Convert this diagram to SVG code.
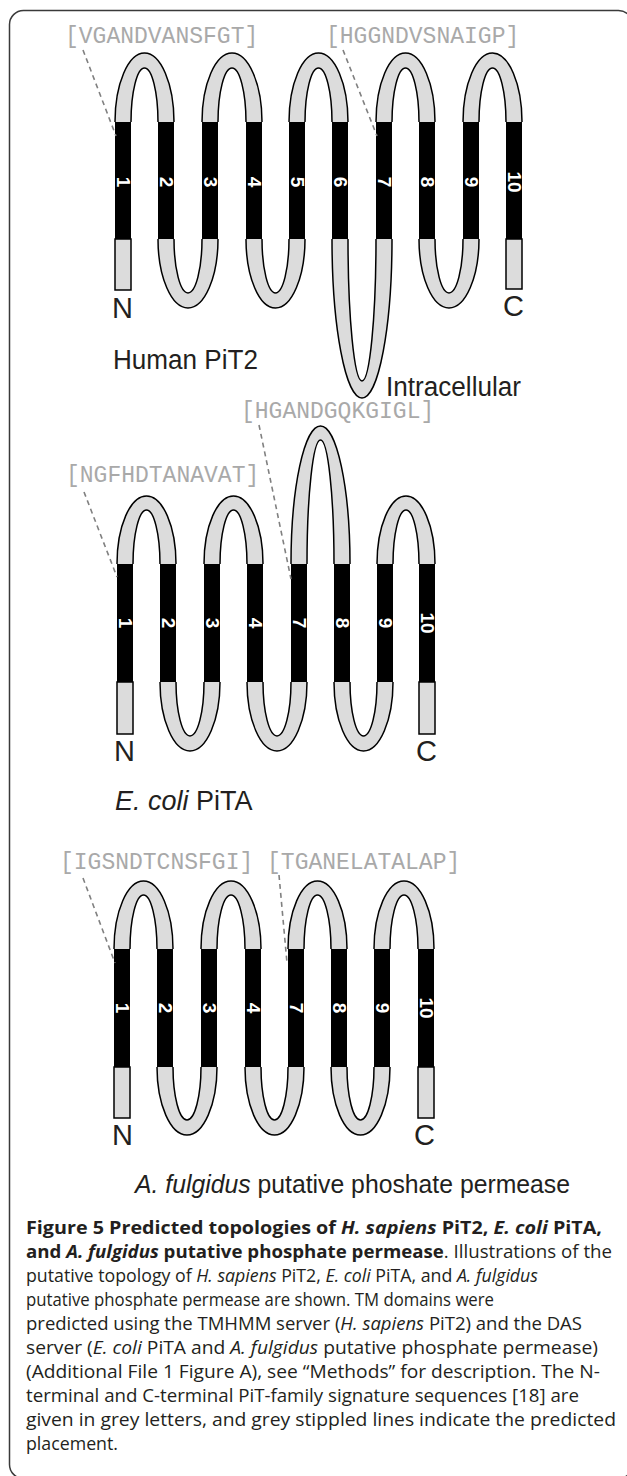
<svg xmlns="http://www.w3.org/2000/svg" width="627" height="1476" viewBox="0 0 627 1476">
<style>
.tube{fill:#dcdcdc;stroke:#000;stroke-width:1.5}
.tail{fill:#dcdcdc;stroke:#000;stroke-width:1.5}
.tm{fill:#000}
.num{fill:#fff;font-family:"Liberation Sans",Arial,sans-serif;font-weight:bold;font-size:19px;text-anchor:middle;dominant-baseline:central}
.seq{fill:#a9a9a9;font-family:"Liberation Mono","Courier New",monospace;font-size:23px}
.lab{fill:#231f20;font-family:"Liberation Sans",Arial,sans-serif;font-size:27px}
.nc{fill:#231f20;font-family:"Liberation Sans",Arial,sans-serif;font-size:29px}
.dash{stroke:#808080;stroke-width:1.6;stroke-dasharray:5 4;fill:none}
.cap{fill:#231f20;font-family:"Open Sans","Noto Sans",sans-serif;font-size:18.5px}
.b{font-weight:bold}
.i{font-style:italic}
</style>
<rect id="frame" x="9.5" y="10.5" width="623" height="1468" rx="14" fill="none" stroke="#3a3a3a" stroke-width="1.5"/>

<!-- ===== Human PiT2 ===== -->
<g id="pit2">
<g id="pit2-loops">
<path class="tube" d="M115,122 A29.5,69 0 0 1 174,122 M158,122 A13.5,54 0 0 0 131,122"/>
<path class="tube" d="M202,122 A30,69 0 0 1 262,122 M246,122 A14,54 0 0 0 218,122"/>
<path class="tube" d="M289,122 A29.5,69 0 0 1 348,122 M332,122 A13.5,54 0 0 0 305,122"/>
<path class="tube" d="M376,122 A29.5,69 0 0 1 435,122 M419,122 A13.5,54 0 0 0 392,122"/>
<path class="tube" d="M463,122 A29.5,69 0 0 1 522,122 M506,122 A13.5,54 0 0 0 479,122"/>
<path class="tube" d="M158,239 A30,69 0 0 0 218,239 M202,239 A14,54 0 0 1 174,239"/>
<path class="tube" d="M246,239 A29.5,69 0 0 0 305,239 M289,239 A13.5,54 0 0 1 262,239"/>
<path class="tube" d="M332,239 A30,159 0 0 0 392,239 M376,239 A14,142 0 0 1 348,239"/>
<path class="tube" d="M419,239 A30,69 0 0 0 479,239 M463,239 A14,54 0 0 1 435,239"/>
<rect class="tail" x="115" y="239" width="16" height="51"/>
<rect class="tail" x="506" y="239" width="16" height="50"/>
</g>
<g id="pit2-tm1"><rect class="tm" x="115" y="122" width="16" height="117"/><text class="num" transform="translate(123,182) rotate(90)">1</text></g>
<g id="pit2-tm2"><rect class="tm" x="158" y="122" width="16" height="117"/><text class="num" transform="translate(166,182) rotate(90)">2</text></g>
<g id="pit2-tm3"><rect class="tm" x="202" y="122" width="16" height="117"/><text class="num" transform="translate(210,182) rotate(90)">3</text></g>
<g id="pit2-tm4"><rect class="tm" x="246" y="122" width="16" height="117"/><text class="num" transform="translate(254,182) rotate(90)">4</text></g>
<g id="pit2-tm5"><rect class="tm" x="289" y="122" width="16" height="117"/><text class="num" transform="translate(297,182) rotate(90)">5</text></g>
<g id="pit2-tm6"><rect class="tm" x="332" y="122" width="16" height="117"/><text class="num" transform="translate(340,182) rotate(90)">6</text></g>
<g id="pit2-tm7"><rect class="tm" x="376" y="122" width="16" height="117"/><text class="num" transform="translate(384,182) rotate(90)">7</text></g>
<g id="pit2-tm8"><rect class="tm" x="419" y="122" width="16" height="117"/><text class="num" transform="translate(427,182) rotate(90)">8</text></g>
<g id="pit2-tm9"><rect class="tm" x="463" y="122" width="16" height="117"/><text class="num" transform="translate(471,182) rotate(90)">9</text></g>
<g id="pit2-tm10"><rect class="tm" x="506" y="122" width="16" height="117"/><text class="num" transform="translate(514,182) rotate(90)">10</text></g>
<g id="pit2-labels">
<text class="seq" x="65" y="43">[VGANDVANSFGT]</text>
<text class="seq" x="326" y="43">[HGGNDVSNAIGP]</text>
<text class="nc" x="112" y="318">N</text>
<text class="nc" x="503" y="316">C</text>
<text class="lab" x="113" y="369" textLength="145" lengthAdjust="spacingAndGlyphs">Human PiT2</text>
<text class="lab" x="386" y="396" textLength="135" lengthAdjust="spacingAndGlyphs">Intracellular</text>
</g>
</g>

<!-- ===== E. coli PiTA ===== -->
<g id="pita">
<g id="pita-loops">
<path class="tube" d="M117,564 A29.5,68 0 0 1 176,564 M160,564 A13.5,54 0 0 0 133,564"/>
<path class="tube" d="M204,564 A29.5,68 0 0 1 263,564 M247,564 A13.5,54 0 0 0 220,564"/>
<path class="tube" d="M291,564 A29.5,138 0 0 1 350,564 M334,564 A13.5,124 0 0 0 307,564"/>
<path class="tube" d="M377,564 A29,68 0 0 1 435,564 M419,564 A13,54 0 0 0 393,564"/>
<path class="tube" d="M160,682 A30,69 0 0 0 220,682 M204,682 A14,54 0 0 1 176,682"/>
<path class="tube" d="M247,682 A30,69 0 0 0 307,682 M291,682 A14,54 0 0 1 263,682"/>
<path class="tube" d="M334,682 A29.5,69 0 0 0 393,682 M377,682 A13.5,54 0 0 1 350,682"/>
<rect class="tail" x="117" y="682" width="16" height="52"/>
<rect class="tail" x="419" y="682" width="16" height="52"/>
</g>
<g id="pita-tm1"><rect class="tm" x="117" y="564" width="16" height="118"/><text class="num" transform="translate(125,623) rotate(90)">1</text></g>
<g id="pita-tm2"><rect class="tm" x="160" y="564" width="16" height="118"/><text class="num" transform="translate(168,623) rotate(90)">2</text></g>
<g id="pita-tm3"><rect class="tm" x="204" y="564" width="16" height="118"/><text class="num" transform="translate(212,623) rotate(90)">3</text></g>
<g id="pita-tm4"><rect class="tm" x="247" y="564" width="16" height="118"/><text class="num" transform="translate(255,623) rotate(90)">4</text></g>
<g id="pita-tm7"><rect class="tm" x="291" y="564" width="16" height="118"/><text class="num" transform="translate(299,623) rotate(90)">7</text></g>
<g id="pita-tm8"><rect class="tm" x="334" y="564" width="16" height="118"/><text class="num" transform="translate(342,623) rotate(90)">8</text></g>
<g id="pita-tm9"><rect class="tm" x="377" y="564" width="16" height="118"/><text class="num" transform="translate(385,623) rotate(90)">9</text></g>
<g id="pita-tm10"><rect class="tm" x="419" y="564" width="16" height="118"/><text class="num" transform="translate(427,623) rotate(90)">10</text></g>
<g id="pita-labels">
<text class="seq" x="241" y="418">[HGANDGQKGIGL]</text>
<text class="seq" x="66" y="482">[NGFHDTANAVAT]</text>
<text class="nc" x="114" y="761">N</text>
<text class="nc" x="416" y="761">C</text>
<text class="lab" x="115" y="810"><tspan class="i">E. coli</tspan> PiTA</text>
</g>
</g>

<!-- ===== A. fulgidus ===== -->
<g id="afulg">
<g id="afulg-loops">
<path class="tube" d="M114,949 A29.5,68 0 0 1 173,949 M157,949 A13.5,54 0 0 0 130,949"/>
<path class="tube" d="M201,949 A30,68 0 0 1 261,949 M245,949 A14,54 0 0 0 217,949"/>
<path class="tube" d="M288,949 A29.5,68 0 0 1 347,949 M331,949 A13.5,54 0 0 0 304,949"/>
<path class="tube" d="M374,949 A30,68 0 0 1 434,949 M418,949 A14,54 0 0 0 390,949"/>
<path class="tube" d="M157,1067 A30,68 0 0 0 217,1067 M201,1067 A14,53 0 0 1 173,1067"/>
<path class="tube" d="M245,1067 A29.5,68 0 0 0 304,1067 M288,1067 A13.5,53 0 0 1 261,1067"/>
<path class="tube" d="M331,1067 A29.5,68 0 0 0 390,1067 M374,1067 A13.5,53 0 0 1 347,1067"/>
<rect class="tail" x="114" y="1067" width="16" height="51"/>
<rect class="tail" x="418" y="1067" width="16" height="51"/>
</g>
<g id="afulg-tm1"><rect class="tm" x="114" y="949" width="16" height="118"/><text class="num" transform="translate(122,1008) rotate(90)">1</text></g>
<g id="afulg-tm2"><rect class="tm" x="157" y="949" width="16" height="118"/><text class="num" transform="translate(165,1008) rotate(90)">2</text></g>
<g id="afulg-tm3"><rect class="tm" x="201" y="949" width="16" height="118"/><text class="num" transform="translate(209,1008) rotate(90)">3</text></g>
<g id="afulg-tm4"><rect class="tm" x="245" y="949" width="16" height="118"/><text class="num" transform="translate(253,1008) rotate(90)">4</text></g>
<g id="afulg-tm7"><rect class="tm" x="288" y="949" width="16" height="118"/><text class="num" transform="translate(296,1008) rotate(90)">7</text></g>
<g id="afulg-tm8"><rect class="tm" x="331" y="949" width="16" height="118"/><text class="num" transform="translate(339,1008) rotate(90)">8</text></g>
<g id="afulg-tm9"><rect class="tm" x="374" y="949" width="16" height="118"/><text class="num" transform="translate(382,1008) rotate(90)">9</text></g>
<g id="afulg-tm10"><rect class="tm" x="418" y="949" width="16" height="118"/><text class="num" transform="translate(426,1008) rotate(90)">10</text></g>
<g id="afulg-labels">
<text class="seq" x="60" y="869">[IGSNDTCNSFGI] [TGANELATALAP]</text>
<text class="nc" x="112" y="1145">N</text>
<text class="nc" x="414" y="1145">C</text>
<text class="lab" x="135" y="1193" style="font-size:25px" textLength="435" lengthAdjust="spacingAndGlyphs"><tspan class="i">A. fulgidus</tspan> putative phoshate permease</text>
</g>
</g>

<g id="connectors">
<line class="dash" x1="83" y1="50" x2="116" y2="136"/>
<line class="dash" x1="343" y1="50" x2="377" y2="136"/>
<line class="dash" x1="259" y1="425" x2="291" y2="579"/>
<line class="dash" x1="84" y1="492" x2="117" y2="577"/>
<line class="dash" x1="83" y1="878" x2="115" y2="963"/>
<line class="dash" x1="279" y1="875" x2="287" y2="963"/>
</g>

<g id="caption" class="cap">
<text x="26" y="1234" textLength="576" lengthAdjust="spacingAndGlyphs"><tspan class="b">Figure 5 Predicted topologies of </tspan><tspan class="b i">H. sapiens</tspan><tspan class="b"> PiT2, </tspan><tspan class="b i">E. coli</tspan><tspan class="b"> PiTA,</tspan></text>
<text x="26" y="1258" textLength="586" lengthAdjust="spacingAndGlyphs"><tspan class="b">and </tspan><tspan class="b i">A. fulgidus</tspan><tspan class="b"> putative phosphate permease</tspan>. Illustrations of the</text>
<text x="26" y="1282" textLength="512" lengthAdjust="spacingAndGlyphs">putative topology of <tspan class="i">H. sapiens</tspan> PiT2, <tspan class="i">E. coli</tspan> PiTA, and <tspan class="i">A. fulgidus</tspan></text>
<text x="26" y="1306" textLength="468" lengthAdjust="spacingAndGlyphs">putative phosphate permease are shown. TM domains were</text>
<text x="26" y="1330" textLength="556" lengthAdjust="spacingAndGlyphs">predicted using the TMHMM server (<tspan class="i">H. sapiens</tspan> PiT2) and the DAS</text>
<text x="26" y="1354" textLength="572" lengthAdjust="spacingAndGlyphs">server (<tspan class="i">E. coli</tspan> PiTA and <tspan class="i">A. fulgidus</tspan> putative phosphate permease)</text>
<text x="26" y="1378" textLength="574" lengthAdjust="spacingAndGlyphs">(Additional File 1 Figure A), see “Methods” for description. The N-</text>
<text x="26" y="1402" textLength="553" lengthAdjust="spacingAndGlyphs">terminal and C-terminal PiT-family signature sequences [18] are</text>
<text x="26" y="1426" textLength="590" lengthAdjust="spacingAndGlyphs">given in grey letters, and grey stippled lines indicate the predicted</text>
<text x="26" y="1450" textLength="92" lengthAdjust="spacingAndGlyphs">placement.</text>
</g>
</svg>
